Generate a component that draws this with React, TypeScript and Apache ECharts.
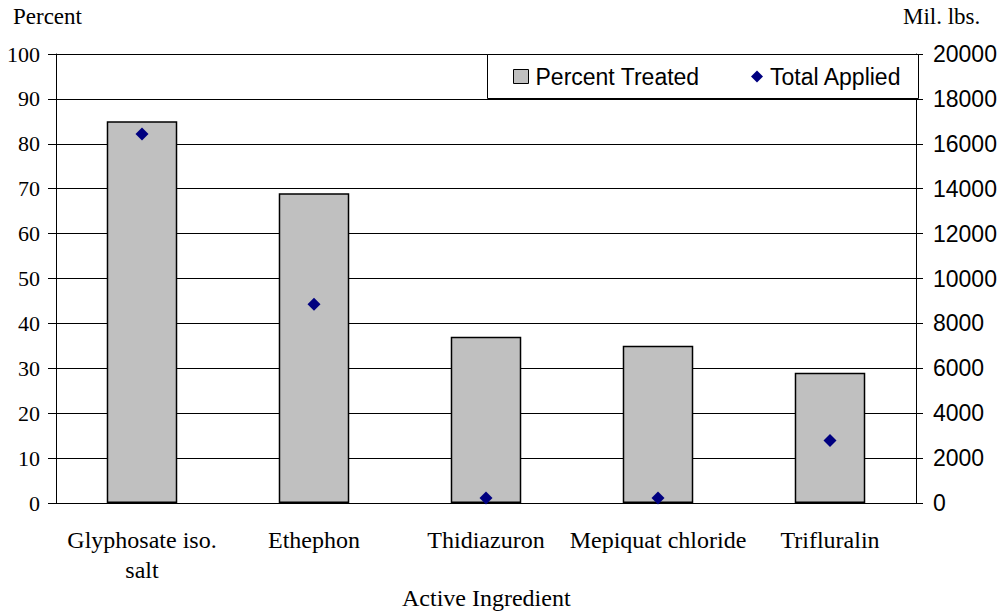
import React, { useEffect, useRef } from "react";
import * as echarts from "echarts";

const categories = ["Glyphosate iso.\nsalt", "Ethephon", "Thidiazuron", "Mepiquat chloride", "Trifluralin"];
const percentTreated = [85, 69, 37, 35, 29];
const totalApplied = [16440, 8850, 220, 220, 2780];
const leftTicks = { min: 0, max: 100, interval: 10 };
const rightTicks = { min: 0, max: 20000, interval: 2000 };

const SERIF = "'Liberation Serif', 'Times New Roman', serif";
const SANS = "'Liberation Sans', Arial, sans-serif";

export default function App() {
  const ref = useRef<HTMLDivElement>(null);
  useEffect(() => {
    if (!ref.current) return;
    const chart = echarts.init(ref.current, undefined, { renderer: "svg" });
    chart.setOption({
      animation: false,
      backgroundColor: "#fff",
      grid: { left: 56, right: 84, top: 54, bottom: 110, containLabel: false },
      graphic: [
        { type: "text", left: 13, top: 5, z: 10, style: { text: "Percent", font: `23px ${SERIF}`, fill: "#000" } },
        { type: "text", left: 903, top: 5, z: 10, style: { text: "Mil. lbs.", font: `23px ${SERIF}`, fill: "#000" } },
        { type: "text", left: 402, top: 586, z: 10, style: { text: "Active Ingredient", font: `24px ${SERIF}`, fill: "#000" } },
        {
          type: "rect",
          z: 3,
          shape: { x: 487.5, y: 54.5, width: 431, height: 44 },
          style: { fill: "#fff", stroke: "#000", lineWidth: 1 },
        },
      ],
      legend: [
        {
          data: [{ name: "Percent Treated", icon: "rect" }],
          left: 513,
          top: 65,
          padding: 0,
          z: 5,
          itemWidth: 15,
          itemHeight: 14,
          itemStyle: { borderColor: "#000", borderWidth: 1 },
          textStyle: { fontFamily: SANS, fontSize: 23, color: "#000", lineHeight: 22, padding: [0, 0, 0, 2] },
        },
        {
          data: [{ name: "Total Applied", icon: "diamond" }],
          left: 751,
          top: 65,
          padding: 0,
          z: 5,
          itemWidth: 12,
          itemHeight: 12,
          itemStyle: { opacity: 1 },
          textStyle: { fontFamily: SANS, fontSize: 23, color: "#000", lineHeight: 22, padding: [0, 0, 0, 2] },
        },
      ],
      xAxis: {
        type: "category",
        data: categories,
        axisLine: { show: true, lineStyle: { color: "#000", width: 1 } },
        axisTick: { show: false },
        axisLabel: { fontFamily: SERIF, fontSize: 24, color: "#000", margin: 22, lineHeight: 30, interval: 0 },
        splitLine: { show: false },
      },
      yAxis: [
        {
          type: "value",
          min: leftTicks.min,
          max: leftTicks.max,
          interval: leftTicks.interval,
          axisLine: { show: true, lineStyle: { color: "#000", width: 1 } },
          axisTick: { show: true, length: 8, lineStyle: { color: "#000" } },
          axisLabel: { fontFamily: SERIF, fontSize: 22, color: "#000", margin: 16 },
          splitLine: { show: true, lineStyle: { color: "#000", width: 1 } },
        },
        {
          type: "value",
          position: "right",
          min: rightTicks.min,
          max: rightTicks.max,
          interval: rightTicks.interval,
          axisLine: { show: true, lineStyle: { color: "#000", width: 1 } },
          axisTick: { show: true, length: 7, lineStyle: { color: "#000" } },
          axisLabel: {
            fontFamily: SANS,
            fontSize: 23,
            color: "#000",
            margin: 17,
            formatter: (v: number) => String(v),
          },
          splitLine: { show: false },
        },
      ],
      series: [
        {
          name: "Percent Treated",
          type: "bar",
          data: percentTreated,
          barWidth: "41%",
          itemStyle: { color: "#c0c0c0", borderColor: "#000", borderWidth: 1.5 },
          z: 2,
        },
        {
          name: "Total Applied",
          type: "scatter",
          yAxisIndex: 1,
          data: totalApplied,
          symbol: "diamond",
          symbolSize: [13, 13],
          itemStyle: { color: "#000080", opacity: 1 },
          z: 3,
        },
      ],
    });
    return () => chart.dispose();
  }, []);
  return <div ref={ref} style={{ position: "absolute", left: 0, top: 0, width: 1000, height: 613 }} />;
}
